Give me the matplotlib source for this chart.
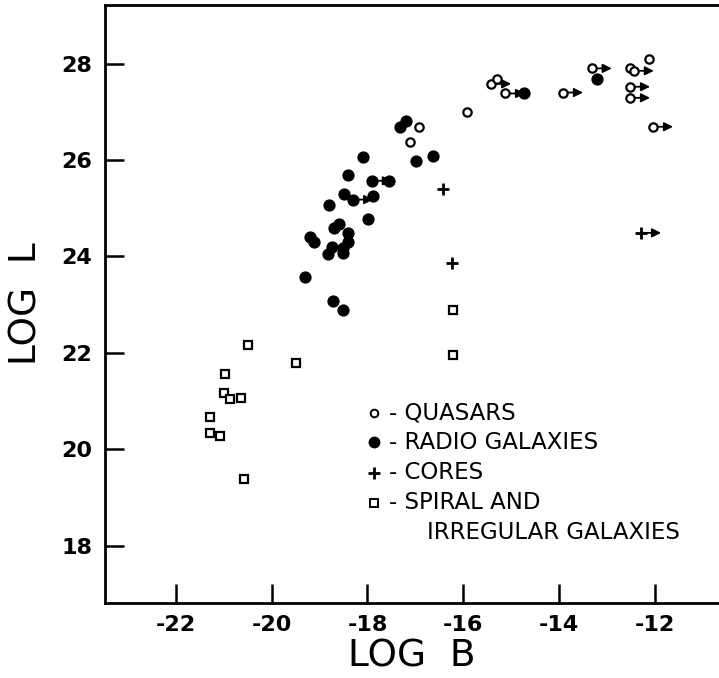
import matplotlib.pyplot as plt

# -----------------------------------------
# Data
# -----------------------------------------
quasar_b = [-15.93, -16.93, -17.11, -15.42, -15.30, -15.13, -13.92, -13.32,
            -12.52, -12.44, -12.13, -12.52, -12.52, -12.04]
quasar_l = [27.00, 26.69, 26.38, 27.58, 27.69, 27.38, 27.40, 27.90,
            27.90, 27.85, 28.10, 27.52, 27.29, 26.69]
quasar_lim = [0, 0, 0, 1, 0, 1, 1, 1, 0, 1, 0, 1, 1, 1]

radio_b = [-17.20, -17.32, -16.99, -16.63, -18.10, -18.41, -17.91, -17.55,
           -18.49, -18.30, -17.89, -18.81, -17.99, -18.60, -18.70, -18.41,
           -18.41, -18.51, -18.51, -18.74, -18.83, -19.20, -19.12, -19.31,
           -18.72, -18.51, -14.73, -13.21]
radio_l = [26.80, 26.69, 25.99, 26.09, 26.07, 25.68, 25.57, 25.57,
           25.30, 25.18, 25.26, 25.07, 24.78, 24.68, 24.60, 24.49,
           24.29, 24.18, 24.08, 24.20, 24.06, 24.41, 24.31, 23.58,
           23.08, 22.88, 27.40, 27.69]
radio_lim = [0, 0, 0, 0, 0, 0, 1, 0, 0, 1, 0, 0, 0, 0, 0, 0,
             0, 0, 0, 0, 0, 0, 0, 0, 0, 0, 0, 0]

core_b = [-16.43, -16.24, -12.29]
core_l = [25.39, 23.87, 24.49]
core_lim = [0, 0, 1]

spiral_b = [-20.50, -19.49, -20.98, -21.00, -20.87, -20.64, -21.29, -21.29,
            -21.08, -20.58, -16.22, -16.22]
spiral_l = [22.17, 21.80, 21.57, 21.17, 21.05, 21.07, 20.68, 20.34,
            20.28, 19.39, 22.88, 21.96]

x_ticks = [-22, -20, -18, -16, -14, -12]
y_ticks = [18, 20, 22, 24, 26, 28]

legend_labels = ["- QUASARS", "- RADIO GALAXIES", "- CORES",
                 "- SPIRAL AND", "IRREGULAR GALAXIES"]

# -----------------------------------------
# Figure
# -----------------------------------------
plt.rcParams["font.family"] = ["DejaVu Sans"]
plt.rcParams["axes.unicode_minus"] = False
fig = plt.figure(figsize=(7.19, 6.78), dpi=100)
ax = fig.add_axes([0.146, 0.111, 0.854, 0.882])

ax.set_xlim(-23.48, -10.66)
ax.set_ylim(16.82, 29.22)


def draw_limits(xs, ys, flags):
    # lower-limit arrows pointing to larger B
    for x, y, f in zip(xs, ys, flags):
        if f:
            ax.annotate("", xy=(x + 0.42, y), xytext=(x, y),
                        arrowprops=dict(arrowstyle="-|>", color="black",
                                        lw=1.3, mutation_scale=13,
                                        shrinkA=0, shrinkB=0),
                        zorder=2)


draw_limits(quasar_b, quasar_l, quasar_lim)
draw_limits(radio_b, radio_l, radio_lim)
draw_limits(core_b, core_l, core_lim)

ax.plot(quasar_b, quasar_l, "o", ms=6.0, mfc="white", mec="black",
        mew=1.6, ls="none", zorder=3)
ax.plot(radio_b, radio_l, "o", ms=7.8, color="black", ls="none", zorder=4)
ax.plot(core_b, core_l, "+", ms=9, mew=2.0, color="black", ls="none", zorder=3)
ax.plot(spiral_b, spiral_l, "s", ms=6.0, mfc="white", mec="black",
        mew=1.6, ls="none", zorder=3)

# -----------------------------------------
# Hand-made key
# -----------------------------------------
key_y = [0.318, 0.268, 0.217, 0.167]
key_kw = [dict(marker="o", ms=5.5, mfc="white", mec="black", mew=1.4),
          dict(marker="o", ms=7.5, mfc="black", mec="black"),
          dict(marker="+", ms=9, mew=2.0, color="black"),
          dict(marker="s", ms=5.5, mfc="white", mec="black", mew=1.4)]
for yy, kw in zip(key_y, key_kw):
    ax.plot([0.438], [yy], ls="none", transform=ax.transAxes, **kw)
for yy, lab in zip(key_y, legend_labels[:4]):
    ax.text(0.462, yy, lab, transform=ax.transAxes, fontsize=16.5,
            va="center", ha="left")
ax.text(0.524, 0.117, legend_labels[4], transform=ax.transAxes,
        fontsize=16.5, va="center", ha="left")

# -----------------------------------------
# Axes styling
# -----------------------------------------
ax.set_xticks(x_ticks)
ax.set_yticks(y_ticks)
ax.tick_params(direction="in", length=14, width=1.8, labelsize=16, pad=9)
for lab in ax.get_xticklabels() + ax.get_yticklabels():
    lab.set_fontweight("bold")
for side in ["left", "bottom", "top"]:
    ax.spines[side].set_linewidth(2.0)
ax.spines["right"].set_visible(False)

ax.set_xlabel("LOG  B", fontsize=27, labelpad=2)
ax.set_ylabel("LOG  L", fontsize=27, labelpad=12)

fig.savefig("out.png", dpi=100)
